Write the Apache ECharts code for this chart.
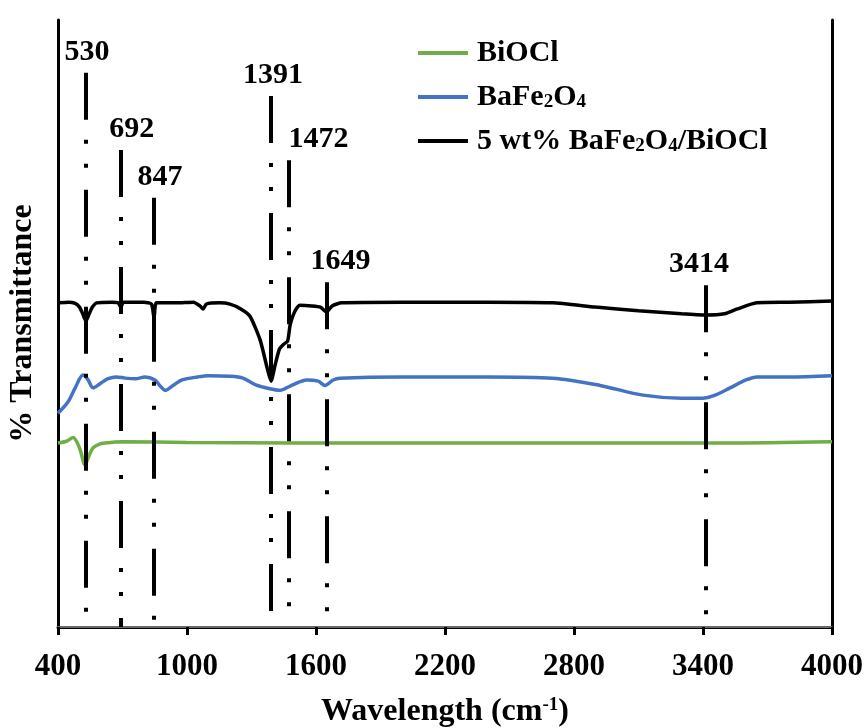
<!DOCTYPE html>
<html>
<head>
<meta charset="utf-8">
<script src="https://cdn.jsdelivr.net/npm/echarts@6/dist/echarts.min.js"></script>
<style>
  html, body { margin: 0; padding: 0; background: #fff; }
  #chart { width: 867px; height: 728px; }
</style>
</head>
<body>
<div id="chart"></div>
<script>
// x tick labels (wavenumber)
const xTicks = [400, 1000, 1600, 2200, 2800, 3400, 4000];

// BiOCl  [wavenumber, transmittance]
const biocl = [
    [400, 30.3], [440, 30.6], [470, 31.2], [500, 29.5], [526, 26.7], [545, 28.3],
    [563, 29.5], [590, 30.1], [619, 30.3], [700, 30.5], [1000, 30.4], [1500, 30.3],
    [2000, 30.3], [2500, 30.3], [3000, 30.3], [3500, 30.3], [4000, 30.5]
];

// BaFe2O4
const bafe = [
    [400, 35.2], [447, 37.1], [480, 39.4], [516, 41.5], [540, 40.7], [563, 39.4],
    [600, 40.2], [633, 40.9], [670, 41.2], [712, 41.0], [760, 40.9], [805, 41.2],
    [851, 40.7], [875, 39.7], [898, 39.0], [935, 39.8], [977, 40.7], [1050, 41.2],
    [1100, 41.4], [1200, 41.3], [1260, 41.0], [1320, 39.9], [1380, 39.3], [1433, 39.0],
    [1480, 39.7], [1558, 40.7], [1610, 40.5], [1642, 39.8], [1680, 40.7], [1712, 41.0],
    [2000, 41.2], [2400, 41.2], [2700, 41.0], [2921, 39.8], [3121, 38.2], [3300, 37.7],
    [3400, 37.7], [3450, 38.1], [3526, 39.4], [3600, 40.7], [3651, 41.2], [3800, 41.2],
    [4000, 41.4]
];

// 5 wt% BaFe2O4/BiOCl
const composite = [
    [400, 53.4], [450, 53.5], [480, 53.3], [500, 52.7], [515, 51.6], [530, 50.4],
    [545, 51.6], [560, 52.7], [580, 53.4], [650, 53.5], [680, 53.4], [692, 52.7],
    [705, 53.5], [800, 53.5], [835, 53.2], [847, 50.9], [858, 53.4], [950, 53.4],
    [1030, 53.5], [1060, 52.9], [1075, 52.4], [1090, 53.2], [1150, 53.4], [1200, 53.2],
    [1250, 52.4], [1293, 51.2], [1340, 47.3], [1372, 42.8], [1391, 40.5], [1410, 43.2],
    [1430, 45.8], [1450, 46.6], [1468, 47.1], [1480, 49.8], [1500, 51.9], [1525, 53.0],
    [1580, 52.9], [1620, 52.7], [1649, 51.9], [1675, 52.9], [1720, 53.4], [2000, 53.5],
    [2400, 53.5], [2700, 53.4], [2900, 52.7], [3100, 52.1], [3300, 51.6], [3414, 51.4],
    [3500, 51.6], [3560, 52.4], [3650, 53.4], [3800, 53.5], [4000, 53.7]
];

// peak markers: position and top of the dash-dot line
const peaks = [530, 692, 847, 1391, 1472, 1649, 3414];
const peakTops = [91.3, 78.6, 70.7, 87.5, 76.9, 56.8, 56.3];
// horizontal shift of each peak label (px)
const peakLabelDx = [1, 11, 6, 2, 30, 14, -7];

const serif = '"Liberation Serif", "Times New Roman", serif';

let chart = echarts.init(document.getElementById('chart'));

const legendRich = {
    n: { fontFamily: serif, fontWeight: 'bold', fontSize: 30, color: '#000' },
    s: { fontFamily: serif, fontWeight: 'bold', fontSize: 19, color: '#000', verticalAlign: 'bottom', padding: [10, 0, 0, 0] }
};

function legendName(name) {
    if (name === 'BiOCl') return '{n|BiOCl}';
    if (name === 'BaFe2O4') return '{n|BaFe}{s|2}{n|O}{s|4}';
    return '{n|5 wt% BaFe}{s|2}{n|O}{s|4}{n|/BiOCl}';
}

const option = {
    animation: false,
    backgroundColor: '#fff',
    grid: { left: 58, right: 35, top: 20, bottom: 101, outerBoundsMode: 'none', containLabel: false },
    legend: {
        data: ['BiOCl', 'BaFe2O4', '5 wt% BaFe2O4/BiOCl'],
        orient: 'vertical',
        left: 413,
        top: 33,
        icon: 'rect',
        itemWidth: 50,
        itemHeight: 4,
        itemGap: 14,
        formatter: legendName,
        textStyle: { padding: [0, 0, 0, 4], rich: legendRich }
    },
    xAxis: [{
        type: 'value',
        min: 400,
        max: 4000,
        name: '{n|Wavelength (cm}{p|-1}{n|)}',
        nameLocation: 'middle',
        nameGap: 69,
        nameTextStyle: {
            rich: {
                n: { fontFamily: serif, fontWeight: 'bold', fontSize: 32, color: '#000' },
                p: { fontFamily: serif, fontWeight: 'bold', fontSize: 19, color: '#000', verticalAlign: 'top', padding: [0, 0, 12, 0] }
            }
        },
        axisLine: { lineStyle: { color: '#000', width: 3 } },
        axisTick: { show: true, customValues: xTicks, length: 8, inside: false, lineStyle: { color: '#000', width: 3 } },
        axisLabel: {
            customValues: xTicks,
            margin: 24,
            formatter: function (v) { return String(v); },
            fontFamily: serif, fontWeight: 'bold', fontSize: 31, color: '#000'
        },
        splitLine: { show: false }
    }, {
        type: 'value',
        position: 'top',
        min: 400,
        max: 4000,
        axisLine: { show: true, lineStyle: { color: '#8c8c8c', width: 1.5 } },
        axisTick: { show: false },
        axisLabel: { show: false },
        splitLine: { show: false }
    }],
    yAxis: [{
        type: 'value',
        min: 0,
        max: 100,
        name: '% Transmittance',
        nameLocation: 'middle',
        nameGap: 19,
        nameTextStyle: { fontFamily: serif, fontWeight: 'bold', fontSize: 32, color: '#000' },
        axisLine: { show: true, lineStyle: { color: '#000', width: 3 } },
        axisTick: { show: false },
        axisLabel: { show: false },
        splitLine: { show: false }
    }, {
        type: 'value',
        position: 'right',
        min: 0,
        max: 100,
        axisLine: { show: true, lineStyle: { color: '#000', width: 3 } },
        axisTick: { show: false },
        axisLabel: { show: false },
        splitLine: { show: false }
    }],
    series: [
        {
            name: 'BiOCl',
            type: 'line',
            data: biocl,
            symbol: 'none',
            smooth: 0.3,
            lineStyle: { color: '#70AD47', width: 3.5 },
            itemStyle: { color: '#70AD47' },
            z: 3
        },
        {
            name: 'BaFe2O4',
            type: 'line',
            data: bafe,
            symbol: 'none',
            smooth: 0.3,
            lineStyle: { color: '#4472C4', width: 3.5 },
            itemStyle: { color: '#4472C4' },
            z: 3
        },
        {
            name: '5 wt% BaFe2O4/BiOCl',
            type: 'line',
            data: composite,
            symbol: 'none',
            smooth: 0.2,
            lineStyle: { color: '#000', width: 3.5 },
            itemStyle: { color: '#000' },
            z: 3
        },
        {
            name: 'peaks',
            type: 'scatter',
            symbolSize: 0,
            itemStyle: { opacity: 1, color: '#000' },
            data: peaks.map(function (p, i) {
                return {
                    value: [p, peakTops[i]],
                    label: { offset: [peakLabelDx[i], 0] }
                };
            }),
            label: {
                show: true,
                position: 'top',
                distance: 6,
                formatter: function (params) { return params.value[0]; },
                fontFamily: serif, fontWeight: 'bold', fontSize: 30, color: '#000', opacity: 1
            },
            markLine: {
                silent: true,
                symbol: ['none', 'none'],
                label: { show: false },
                lineStyle: { color: '#000', width: 4, type: [47, 20, 4, 20, 4, 22], cap: 'butt', opacity: 1 },
                emphasis: { disabled: true },
                data: peaks.map(function (p, i) {
                    return [{ coord: [p, peakTops[i]] }, { coord: [p, 0] }];
                })
            },
            z: 5
        }
    ]
};

chart.setOption(option);
</script>
</body>
</html>
